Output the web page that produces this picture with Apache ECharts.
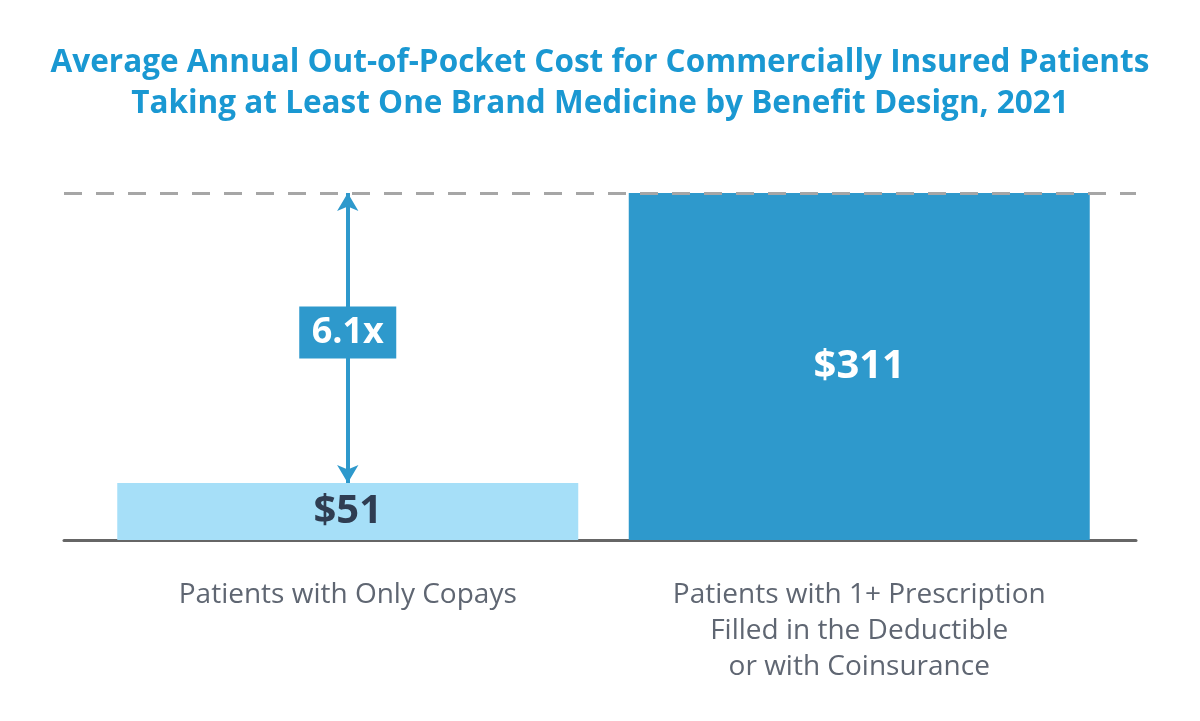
<!DOCTYPE html>
<html><head><meta charset="utf-8">
<script src="https://cdn.jsdelivr.net/npm/echarts@6/dist/echarts.min.js"></script>
<style>html,body{margin:0;padding:0;background:#fff}#c{width:1200px;height:721px}</style>
</head><body><div id="c"></div>
<script>
const titleText = 'Average Annual Out-of-Pocket Cost for Commercially Insured Patients\nTaking at Least One Brand Medicine by Benefit Design, 2021';
const categories = ['Patients with Only Copays', 'Patients with 1+ Prescription\nFilled in the Deductible\nor with Coinsurance'];
const values = [51, 311];
const valueLabels = ['$51', '$311'];
const ratioLabel = '6.1x';

const maxV = Math.max(...values);
const minV = Math.min(...values);
const chart = echarts.init(document.getElementById('c'));
chart.setOption({
  backgroundColor: '#fff',
  animation: false,
  title: {
    text: titleText, left: 'center', top: 38,
    textStyle: { fontFamily: 'Open Sans', fontWeight: 'bold', fontSize: 31.5, color: '#1a98d2', lineHeight: 41 }
  },
  grid: [
    { left: 92, right: 85, top: 193, bottom: 181 },
    { left: 64, right: 64, top: 193, bottom: 181 }
  ],
  xAxis: [
    { gridIndex: 0, type: 'category', data: categories,
      axisLine: { show: false }, axisTick: { show: false },
      axisLabel: { margin: 37, fontFamily: 'Open Sans', fontSize: 28, color: '#5f6672', lineHeight: 36 } },
    { gridIndex: 1, type: 'value', min: 0, max: 1, show: true,
      axisLine: { show: true, onZero: false, lineStyle: { color: '#666666', width: 3 } },
      axisTick: { show: false }, axisLabel: { show: false }, splitLine: { show: false } }
  ],
  yAxis: [
    { gridIndex: 0, type: 'value', min: 0, max: maxV, show: false, splitLine: { show: false } },
    { gridIndex: 1, type: 'value', min: 0, max: maxV, show: false, splitLine: { show: false } }
  ],
  series: [
    {
      type: 'bar', xAxisIndex: 0, yAxisIndex: 0, barWidth: 461, z: 2,
      data: values.map((v, i) => ({
        value: v,
        itemStyle: { color: i === 0 ? '#a6dff8' : '#2e99cc' },
        label: {
          show: true, position: 'inside',
          formatter: valueLabels[i], fontFamily: 'Open Sans', fontWeight: 'bold', fontSize: 40,
          color: i === 0 ? '#2f3d52' : '#ffffff'
        }
      })),
      markLine: {
        silent: true, symbol: ['arrow', 'arrow'], symbolSize: [16, 18], z: 5,
        lineStyle: { color: '#2e99cc', width: 4, type: 'solid' },
        label: { show: false },
        data: [[{ coord: [0, maxV] }, { coord: [0, minV] }]]
      },
      markPoint: {
        silent: true, z: 6,
        symbol: 'rect', symbolSize: [97, 52],
        itemStyle: { color: '#2e99cc' },
        label: { show: true, formatter: ratioLabel, color: '#fff', fontFamily: 'Open Sans', fontWeight: 'bold', fontSize: 36 },
        data: [{ coord: [0, (maxV + minV) / 2 + 5] }]
      }
    },
    {
      type: 'line', xAxisIndex: 1, yAxisIndex: 1, data: [], symbol: 'none', z: 1,
      markLine: {
        silent: true, symbol: 'none', label: { show: false },
        lineStyle: { color: '#a6a6a6', width: 3, type: [18, 14] },
        data: [{ yAxis: maxV }]
      }
    }
  ]
});
</script></body></html>
